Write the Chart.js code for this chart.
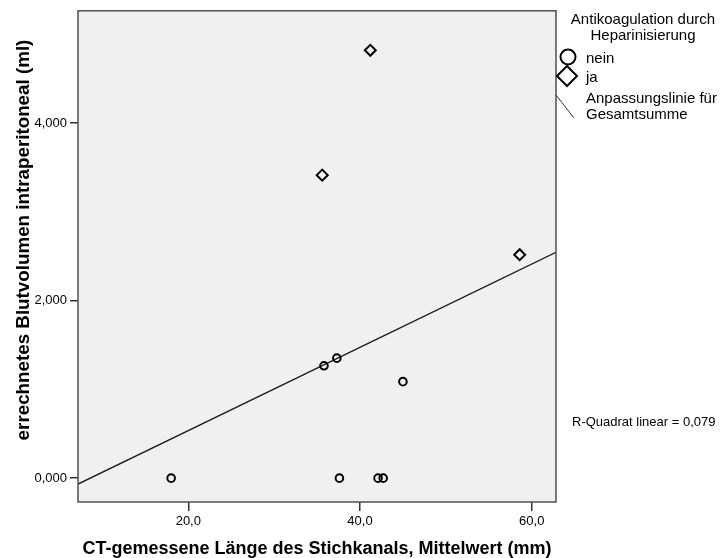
<!DOCTYPE html>
<html>
<head>
<meta charset="utf-8">
<script src="https://cdn.jsdelivr.net/npm/chart.js@4.4.1/dist/chart.umd.min.js"></script>
<style>
  body { margin: 0; background: #fff; }
  #wrap { width: 724px; height: 558px; position: relative; }
</style>
</head>
<body>
<div id="wrap"><canvas id="streuChart"></canvas></div>
<script>
// Werte (Länge in mm, Volumen in ml)
var neinLaenge = [18.0, 37.6, 42.1, 42.7, 35.8, 37.3, 45.0];
var neinVolumen = [0, 0, 0, 0, 1266, 1352, 1087];
var jaLaenge = [41.2, 35.6, 58.6];
var jaVolumen = [4821, 3414, 2518];
var xTicks = [20, 40, 60];
var yTicks = [0, 2000, 4000];
var rQuadrat = 0.079; // wie in der Abbildung angegeben
var xMin = 7.15, xMax = 62.83;
var yMin = -269, yMax = 5266;

// Anpassungslinie für Gesamtsumme (lineare Regression über alle Punkte)
function linFit(xs, ys) {
  var n = xs.length, mx = 0, my = 0;
  for (var i = 0; i < n; i++) { mx += xs[i]; my += ys[i]; }
  mx /= n; my /= n;
  var sxy = 0, sxx = 0;
  for (var j = 0; j < n; j++) {
    sxy += (xs[j] - mx) * (ys[j] - my);
    sxx += (xs[j] - mx) * (xs[j] - mx);
  }
  var b = sxy / sxx;
  return { a: my - b * mx, b: b };
}
var fit = linFit(neinLaenge.concat(jaLaenge), neinVolumen.concat(jaVolumen));

function toPoints(xs, ys) {
  return xs.map(function (x, i) { return { x: x, y: ys[i] }; });
}

var FONT = "'Liberation Sans', Arial, sans-serif";
Chart.defaults.font.family = FONT;
Chart.defaults.color = "#000";

// Hintergrund, Rahmen, Y-Titel, Legende und R-Quadrat im SPSS-Stil
var spssPlugin = {
  id: "spss",
  beforeDatasetsDraw: function (chart) {
    var c = chart.ctx, a = chart.chartArea;
    c.save();
    c.fillStyle = "#f0f0f0";
    c.fillRect(a.left, a.top, a.right - a.left, a.bottom - a.top);
    c.restore();
  },
  afterDraw: function (chart) {
    var c = chart.ctx, a = chart.chartArea;
    c.save();
    c.strokeStyle = "#505050";
    c.lineWidth = 1.5;
    c.strokeRect(a.left, a.top, a.right - a.left, a.bottom - a.top);

    // Y-Achsentitel (in SPSS etwas oberhalb der Mitte)
    c.save();
    c.translate(24, 240);
    c.rotate(-Math.PI / 2);
    c.font = "bold 18.8px " + FONT;
    c.fillStyle = "#000";
    c.textAlign = "center";
    c.textBaseline = "middle";
    c.fillText("errechnetes Blutvolumen intraperitoneal (ml)", 0, 0);
    c.restore();

    c.fillStyle = "#000";
    c.font = "15px " + FONT;
    c.textAlign = "center";
    c.textBaseline = "middle";
    c.fillText("Antikoagulation durch", 643, 20);
    c.fillText("Heparinisierung", 643, 36);

    c.textAlign = "left";
    c.strokeStyle = "#000";
    c.lineWidth = 2;
    c.beginPath();
    c.arc(568, 57, 7.5, 0, Math.PI * 2);
    c.stroke();
    c.fillText(chart.data.datasets[0].label, 586, 59);

    c.beginPath();
    c.moveTo(567, 66); c.lineTo(577, 76); c.lineTo(567, 86); c.lineTo(557, 76);
    c.closePath();
    c.stroke();
    c.fillText(chart.data.datasets[1].label, 586, 78);

    c.strokeStyle = "#333";
    c.lineWidth = 1;
    c.beginPath();
    c.moveTo(556, 95); c.lineTo(574, 118);
    c.stroke();
    c.fillText("Anpassungslinie für", 586, 99);
    c.fillText("Gesamtsumme", 586, 115);

    c.font = "13px " + FONT;
    c.fillText("R-Quadrat linear = " + rQuadrat.toFixed(3).replace(".", ","), 572, 422);
    c.restore();
  }
};

var ctx = document.getElementById("streuChart").getContext("2d");
var streuChart = new Chart(ctx, {
  type: "scatter",
  data: {
    datasets: [
      {
        label: "nein",
        data: toPoints(neinLaenge, neinVolumen),
        pointStyle: "circle",
        pointRadius: 3.8,
        pointHoverRadius: 3.8,
        borderWidth: 2,
        borderColor: "#000",
        backgroundColor: "rgba(0,0,0,0)",
        order: 1
      },
      {
        label: "ja",
        data: toPoints(jaLaenge, jaVolumen),
        pointStyle: "rectRot",
        pointRadius: 5.5,
        pointHoverRadius: 5.5,
        borderWidth: 2,
        borderColor: "#000",
        backgroundColor: "rgba(0,0,0,0)",
        order: 1
      },
      {
        type: "line",
        label: "Gesamtsumme",
        data: [
          { x: xMin, y: fit.a + fit.b * xMin },
          { x: xMax, y: fit.a + fit.b * xMax }
        ],
        borderColor: "#1a1a1a",
        borderWidth: 1.4,
        pointRadius: 0,
        fill: false,
        order: 2
      }
    ]
  },
  options: {
    responsive: true,
    maintainAspectRatio: false,
    animation: false,
    events: [],
    layout: { padding: { top: 8, right: 168, bottom: 0, left: 0 } },
    plugins: {
      legend: { display: false },
      tooltip: { enabled: false }
    },
    scales: {
      x: {
        type: "linear",
        min: xMin,
        max: xMax,
        afterBuildTicks: function (s) {
          s.ticks = xTicks.map(function (v) { return { value: v }; });
        },
        afterFit: function (s) { s.height = 56; },
        grid: { drawOnChartArea: false, tickLength: 9, color: "#333", lineWidth: 1.5 },
        border: { display: false },
        ticks: {
          padding: 3,
          font: { size: 13 },
          color: "#000",
          maxRotation: 0,
          callback: function (v) { return v.toFixed(1).replace(".", ","); }
        },
        title: {
          display: true,
          text: "CT-gemessene Länge des Stichkanals, Mittelwert (mm)",
          font: { size: 18, weight: "bold", lineHeight: 1.0 },
          color: "#000",
          padding: { top: 0, bottom: 0 }
        }
      },
      y: {
        type: "linear",
        min: yMin,
        max: yMax,
        afterBuildTicks: function (s) {
          s.ticks = yTicks.map(function (v) { return { value: v }; });
        },
        afterFit: function (s) { s.width = 78; },
        grid: { drawOnChartArea: false, tickLength: 8, color: "#333", lineWidth: 1.5 },
        border: { display: false },
        ticks: {
          padding: 3,
          font: { size: 13 },
          color: "#000",
          callback: function (v) { return (v / 1000).toFixed(3).replace(".", ","); }
        }
      }
    }
  },
  plugins: [spssPlugin]
});
</script>
</body>
</html>
